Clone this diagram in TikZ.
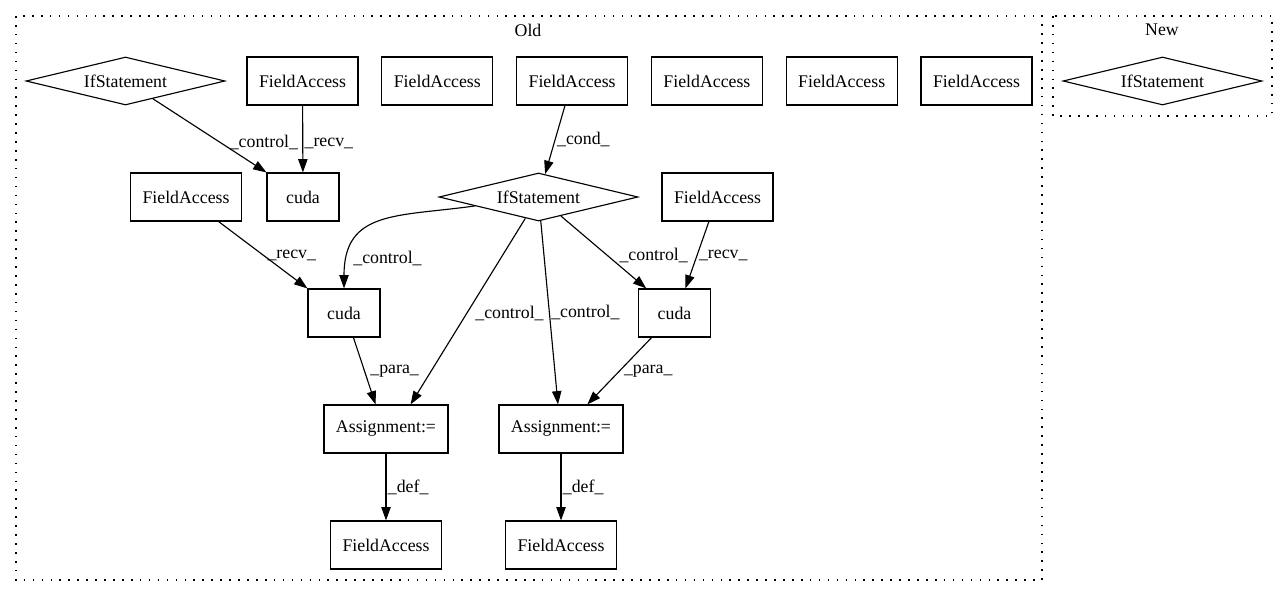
\documentclass[tikz,border=0pt]{standalone}
\usepackage{fontspec}
\setmainfont{Liberation Serif}
\usetikzlibrary{positioning}
\usetikzlibrary{shapes.geometric}
\usetikzlibrary{arrows.meta}

\begin{document}
\begin{tikzpicture}[x=0.75pt,y=0.75pt,on grid,node distance=101.1pt,
    font=\fontsize{13.35}{16}\selectfont,
    box/.style={draw,rectangle,line width=0.85pt,inner xsep=9pt,minimum width=54pt,minimum height=36pt},
    cond/.style={draw,diamond,aspect=4.15,inner sep=0pt,line width=0.85pt,minimum width=149.25pt,minimum height=36pt},
    lbl/.style={inner sep=1pt},
    cluster/.style={line width=0.85pt,dash pattern=on 1.2pt off 5.5pt},
    >={Triangle[length=10pt,width=7pt]}]
   \useasboundingbox (0,0) rectangle (1288,-596);
   \draw[cluster] (16,-16) rectangle (1042,-580);
   \draw[cluster] (1053,-16) rectangle (1272,-116);
   \node (old) at (528,-30) {Old};
   \node (new) at (1162,-30) {New};
   % first row
   \node[cond] (if_a) at (125.5,-81) {IfStatement};
   \node[box] (fa_1) at (302.5,-81) {FieldAccess};
   \node[box] (fa_2) [right=of fa_1] {FieldAccess};
   \node[box] (fa_3) [right=of fa_2] {FieldAccess};
   \node[box] (fa_4) [right=of fa_3] {FieldAccess};
   \node[box] (fa_5) [right=of fa_4] {FieldAccess};
   \node[box] (fa_6) [right=of fa_5] {FieldAccess};
   \node[cond] (if_new) at (1162.5,-81) {IfStatement};
   % second row
   \node[box] (fa_l) at (186,-197) {FieldAccess};
   \node[box] (cuda_a) at (303,-197) {cuda};
   \node[cond] (if_b) at (538.5,-197) {IfStatement};
   \node[box] (fa_r) at (717.5,-197) {FieldAccess};
   % lower rows
   \node[box] (cuda_b) at (344,-313) {cuda};
   \node[box] (cuda_c) at (674.5,-313) {cuda};
   \node[box] (as_a) at (386,-429) {Assignment:=};
   \node[box] (as_b) at (561,-429) {Assignment:=};
   \node[box] (fa_d1) [below=87pt of as_a] {FieldAccess};
   \node[box] (fa_d2) [below=87pt of as_b] {FieldAccess};
    \path[->,line width=0.85pt]
    (if_a) edge node[lbl,pos=0.59,right,xshift=6pt] {\_control\_} (cuda_a.north west)
    (fa_1) edge node[lbl,pos=0.56,right] {\_recv\_} (cuda_a)
    (fa_3) edge node[lbl,pos=0.49,right] {\_cond\_} (if_b)
    (if_b) edge [out=188,in=90,looseness=1.3] node[lbl,pos=0.85,right,xshift=3pt] {\_control\_} (cuda_b)
    (fa_l) edge node[lbl,pos=0.5,right,xshift=2pt] {\_recv\_} (cuda_b.north west)
    (if_b) edge node[lbl,pos=0.51,right,xshift=5pt] {\_control\_} (as_a.45)
    (if_b) edge node[lbl,pos=0.5,right] {\_control\_} (as_b.97)
    (if_b) edge node[lbl,pos=0.54,right,xshift=8pt] {\_control\_} (cuda_c.139)
    (fa_r) edge node[lbl,pos=0.5,right] {\_recv\_} (cuda_c.66)
    (cuda_b.-69) edge node[lbl,pos=0.5,right,xshift=3pt] {\_para\_} (as_a.113)
    (cuda_c.-133) edge node[lbl,pos=0.5,right,xshift=2pt] {\_para\_} (as_b.43)
    (as_a) edge node[lbl,pos=0.5,right] {\_def\_} (fa_d1)
    (as_b) edge node[lbl,pos=0.5,right] {\_def\_} (fa_d2);

\end{tikzpicture}
\end{document}
